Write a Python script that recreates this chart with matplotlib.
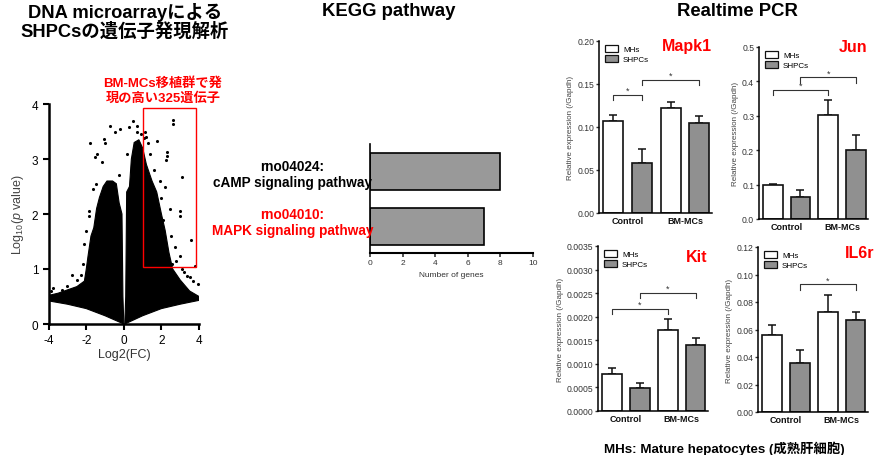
import matplotlib
matplotlib.use("Agg")
import matplotlib.pyplot as plt
from matplotlib.patches import Patch, Rectangle

plt.rcParams['font.family'] = ['Liberation Sans', 'Noto Sans CJK JP', 'DejaVu Sans']
plt.rcParams['mathtext.fontset'] = 'custom'
plt.rcParams['mathtext.rm'] = 'Liberation Sans'
plt.rcParams['mathtext.it'] = 'Liberation Sans:italic'
plt.rcParams['axes.unicode_minus'] = False

# ---------------- data ----------------
# volcano: dense region outlines and scattered points
blob_left_x = [-4.0, -4.0, -3.5, -3.0, -2.5, -2.1, -2.0, -1.9, -1.75, -1.6, -1.45, -1.3,
               -1.1, -0.9, -0.6, -0.4, -0.25, -0.1, -0.05, 0.0, -1.0, -2.0, -3.0]
blob_left_y = [0.42, 0.52, 0.56, 0.62, 0.68, 0.78, 1.0, 1.25, 1.6, 1.75, 2.1, 2.3,
               2.5, 2.6, 2.6, 2.55, 2.2, 2.0, 0.5, 0.0, 0.15, 0.28, 0.36]
blob_right_x = [0.1, 0.15, 0.3, 0.4, 0.55, 0.8, 1.0, 1.2, 1.5, 1.75, 2.0, 2.2, 2.4, 2.6,
                3.0, 3.5, 4.0, 4.0, 3.0, 2.0, 1.0, 0.05]
blob_right_y = [0.5, 2.4, 2.5, 3.0, 3.3, 3.35, 3.2, 2.9, 2.6, 2.4, 2.0, 1.7, 1.3, 1.0,
                0.8, 0.6, 0.5, 0.43, 0.36, 0.28, 0.15, 0.0]
volcano_x = [2.6, 2.62, -0.74, -0.47, 0.5, 0.29, 0.68, 0.7, -1.8, -1.03, -1.0, -1.45, -1.53,
             -1.18, 1.12, 1.74, 2.32, 2.3, 2.23, 3.07, -1.86, -1.86, 3.01, 2.98, 2.45, 3.6,
             3.0, -2.78, -0.24, 0.15, -3.75, -2.51, 3.69, 3.96, 3.34, 3.07, 2.55, 2.28, 3.8,
             1.9, 2.0, 2.2, 1.6, 1.4, 1.3, 2.7, 2.5, 2.8, 3.2, 3.5, 2.1, -2.2, -2.3, -2.5,
             -3.0, -3.3, -2.1, -2.0, -1.65, -1.5, -0.2, 0.9, 1.05, -3.9, 1.2, 1.8, 1.5]
volcano_y = [3.71, 3.63, 3.6, 3.5, 3.69, 3.58, 3.6, 3.5, 3.29, 3.36, 3.29, 3.09, 3.03,
             2.94, 3.5, 3.32, 3.12, 3.05, 2.98, 2.67, 2.05, 1.97, 2.06, 1.96, 2.1, 1.53,
             1.24, 0.9, 2.71, 3.09, 0.65, 0.52, 0.79, 0.72, 0.88, 1.0, 1.1, 1.25, 1.05,
             2.6, 2.3, 2.5, 2.8, 3.1, 3.3, 1.4, 1.6, 1.15, 0.95, 0.85, 1.9, 1.1, 0.9, 0.8,
             0.7, 0.62, 1.45, 1.7, 2.45, 2.55, 3.55, 3.45, 3.38, 0.6, 3.4, 2.0, 2.2]
sel_box = (1.0, 1.04, 3.85, 3.93)  # x0, y0, x1, y1

# KEGG
kegg_labels = ['rno04024:\ncAMP signaling pathway', 'rno04010:\nMAPK signaling pathway']
kegg_colors = ['black', 'red']
kegg_genes = [8, 7]

# Realtime PCR
genes = ['Mapk1', 'Jun', 'Kit', 'IL6r']
groups = ['Control', 'BM-MCs']
mh_ctrl = [0.107, 0.098, 0.00078, 0.056]
mh_ctrl_err = [0.007, 0.005, 0.00013, 0.0074]
shpc_ctrl = [0.058, 0.065, 0.00049, 0.036]
shpc_ctrl_err = [0.017, 0.018, 0.00010, 0.009]
mh_bm = [0.122, 0.302, 0.00172, 0.073]
mh_bm_err = [0.007, 0.045, 0.00024, 0.0123]
shpc_bm = [0.105, 0.200, 0.00139, 0.067]
shpc_bm_err = [0.008, 0.043, 0.00015, 0.006]
y_max = [0.20, 0.5, 0.0035, 0.12]
y_step = [0.05, 0.1, 0.0005, 0.02]
y_fmt = ['%.2f', '%.1f', '%.4f', '%.2f']
# significance brackets: (bar i, bar j, top, tick bottom)
brackets = [
    [(0, 1, 0.1376, 0.131), (1, 3, 0.155, 0.149)],
    [(0, 2, 0.375, 0.36), (1, 3, 0.412, 0.395)],
    [(0, 2, 0.00216, 0.00205), (1, 3, 0.0025, 0.00239)],
    [(1, 3, 0.0928, 0.089)],
]

# ---------------- figure ----------------
W, H = 876, 456
fig = plt.figure(figsize=(W / 100, H / 100), dpi=100)

def ax_px(l, t, r, b):
    return fig.add_axes([l / W, 1 - b / H, (r - l) / W, (b - t) / H])

def ftext(x, y, s, **kw):
    fig.text(x / W, 1 - y / H, s, **kw)

# titles
ftext(125, 22, 'DNA microarrayによる\nSHPCsの遺伝子発現解析', ha='center', va='center',
      fontsize=13.2, fontweight='bold', linespacing=1.05)
ftext(389, 11, 'KEGG pathway', ha='center', va='center', fontsize=13.3, fontweight='bold')
ftext(737, 11, 'Realtime PCR', ha='center', va='center', fontsize=13.3, fontweight='bold')
ftext(163, 91, 'BM-MCs移植群で発\n現の高い325遺伝子', ha='center', va='center',
      fontsize=9.5, fontweight='bold', color='red', linespacing=1.25)
ftext(724, 449, 'MHs: Mature hepatocytes (成熟肝細胞)', ha='center', va='center',
      fontsize=9.6, fontweight='bold')

# ---- volcano ----
av = ax_px(48.7, 105, 199, 325)
av.fill(blob_left_x, blob_left_y, color='black', lw=0.8, ec='black', zorder=2)
av.fill(blob_right_x, blob_right_y, color='black', lw=0.8, ec='black', zorder=2)
av.scatter(volcano_x, volcano_y, s=5, color='black', lw=0, zorder=3, clip_on=False)
x0, y0, x1, y1 = sel_box
av.add_patch(Rectangle((x0, y0), x1 - x0, y1 - y0, fill=False, ec='red', lw=1.0, zorder=4))
av.set_xlim(-4, 4)
av.set_ylim(0, 4)
av.set_xticks([-4, -2, 0, 2, 4])
av.set_yticks([0, 1, 2, 3, 4])
for s in ['top', 'right']:
    av.spines[s].set_visible(False)
for s in ['left', 'bottom']:
    av.spines[s].set_linewidth(1.8)
av.tick_params(direction='out', length=4, width=1.5, labelsize=8.5, colors='black')
av.set_xlabel('Log2(FC)', fontsize=9, color='#333333', labelpad=1)
av.set_ylabel('Log$_{10}$($\\it{p}$ value)', fontsize=9, color='#444444', labelpad=4)

# ---- KEGG ----
ak = ax_px(370, 145, 533, 254)
kpos = [1, 0]
ak.barh(kpos, kegg_genes, height=0.67, color='#999999', edgecolor='black', lw=1.2, zorder=2)
ak.set_xlim(0, 10)
ak.set_ylim(-0.48, 1.5)
ak.set_xticks([0, 2, 4, 6, 8, 10])
ak.set_yticks([])
for s in ['top', 'right']:
    ak.spines[s].set_visible(False)
ak.spines['bottom'].set_linewidth(1.5)
ak.spines['left'].set_linewidth(1.2)
ak.tick_params(axis='x', direction='out', length=3, width=1.2, labelsize=6, colors='#333333', pad=1)
ak.set_xlabel('Number of genes', fontsize=6, color='#333333', labelpad=4)
for p, lab, c in zip(kpos, kegg_labels, kegg_colors):
    ak.text(-4.75, p - 0.05 if c == 'black' else p + 0.08, lab, ha='center', va='center',
            fontsize=9.8, fontweight='bold', color=c, linespacing=1.15, clip_on=False)

# ---- PCR ----
boxes = [(599, 42, 712, 214), (759, 48, 868, 220), (598, 247, 708, 412), (758, 248, 868, 413)]
title_pos = [(687, 47), (853, 47), (697, 257), (860, 253)]
bar_x = [-0.25, 0.25, 0.75, 1.25]
for g in range(4):
    a = ax_px(*boxes[g])
    vals = [mh_ctrl[g], shpc_ctrl[g], mh_bm[g], shpc_bm[g]]
    errs = [mh_ctrl_err[g], shpc_ctrl_err[g], mh_bm_err[g], shpc_bm_err[g]]
    cols = ['white', '#909090', 'white', '#909090']
    a.bar(bar_x, vals, width=0.35, color=cols, edgecolor='#111111', lw=1.2, zorder=2)
    a.errorbar(bar_x, vals, yerr=[[0] * 4, errs], fmt='none', ecolor='#111111',
               elinewidth=1.1, capsize=3.2, capthick=1.1, zorder=1)
    ym = y_max[g]
    a.set_ylim(0, ym)
    a.set_xlim(-0.5, 1.47)
    n = int(round(ym / y_step[g]))
    ticks = [i * y_step[g] for i in range(n + 1)]
    a.set_yticks(ticks)
    a.set_yticklabels([y_fmt[g] % t for t in ticks])
    a.set_xticks([0, 1])
    a.set_xticklabels(groups, fontweight='bold')
    for s in ['top', 'right']:
        a.spines[s].set_visible(False)
    for s in ['left', 'bottom']:
        a.spines[s].set_linewidth(1.1)
    a.tick_params(axis='y', direction='out', length=2.5, width=1.0, labelsize=6.2,
                  colors='#333333', pad=1)
    a.tick_params(axis='x', length=0, labelsize=6.5, colors='#111111', pad=2)
    a.set_ylabel('Relative expression (/Gapdh)', fontsize=5.8, color='#444444', labelpad=2)
    for (i, j, top, bot) in brackets[g]:
        xi, xj = bar_x[i], bar_x[j]
        a.plot([xi, xi, xj, xj], [bot, top, top, bot], color='#333333', lw=0.8, zorder=3)
        a.text((xi + xj) / 2, top, '*', ha='center', va='bottom', fontsize=6.5, color='#333333')
    handles = [Patch(facecolor='white', edgecolor='#111111', lw=0.9, label='MHs'),
               Patch(facecolor='#909090', edgecolor='#111111', lw=0.9, label='SHPCs')]
    a.legend(handles=handles, loc='upper left', bbox_to_anchor=(0.02, 1.0), frameon=False,
             fontsize=5.8, handlelength=1.6, handleheight=0.9, handletextpad=0.6,
             labelspacing=0.25, borderaxespad=0.1)
    tx, ty = title_pos[g]
    ftext(tx, ty, genes[g], ha='center', va='center', fontsize=11.5, fontweight='bold', color='red')

fig.savefig('out.png', dpi=100)
